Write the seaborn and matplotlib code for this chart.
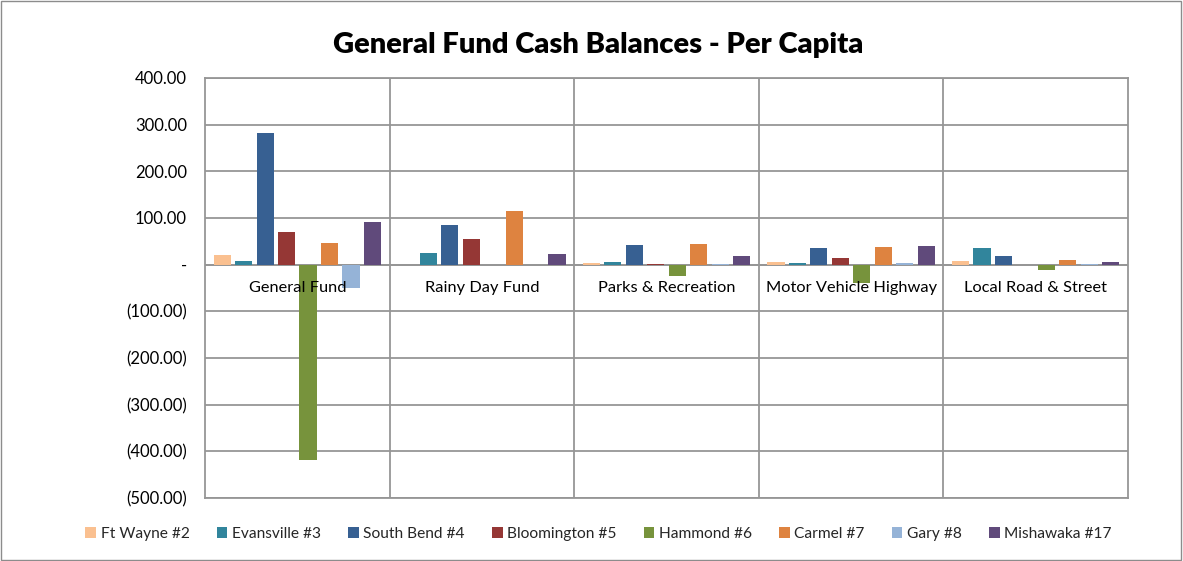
import numpy as np
import pandas as pd
import matplotlib
matplotlib.use("Agg")
import matplotlib.pyplot as plt
from matplotlib.ticker import FuncFormatter
from matplotlib.patches import Rectangle
import seaborn as sns

# Per capita balances
funds = ["General Fund", "Rainy Day Fund", "Parks & Recreation",
         "Motor Vehicle Highway", "Local Road & Street"]
cities = ["Ft Wayne #2", "Evansville #3", "South Bend #4", "Bloomington #5",
          "Hammond #6", "Carmel #7", "Gary #8", "Mishawaka #17"]

ft_wayne = [20, 0, 4, 6, 8]
evansville = [7, 25, 6, 3, 35]
south_bend = [282, 86, 42, 36, 19]
bloomington = [69, 56, 2, 15, 0]
hammond = [-419, 0, -24, -39, -11]
carmel = [46, 114, 45, 37, 9]
gary = [-50, 0, 1, 3, 1]
mishawaka = [91, 22, 18, 39, 6]

colors = ["#FAC090", "#31859C", "#376092", "#953735",
          "#77933C", "#DE8340", "#95B3D7", "#604A7B"]

series = [ft_wayne, evansville, south_bend, bloomington,
          hammond, carmel, gary, mishawaka]
rows = []
for city, vals in zip(cities, series):
    for fund, v in zip(funds, vals):
        rows.append({"Fund": fund, "City": city, "Value": v})
df = pd.DataFrame(rows)

sns.set_style("white")
plt.rcParams["font.family"] = ["Lato", "DejaVu Sans"]

fig = plt.figure(figsize=(11.83, 5.61), dpi=100)
ax = fig.add_axes([0.1733, 0.1123, 0.7802, 0.7487])

sns.barplot(data=df, x="Fund", y="Value", hue="City", order=funds,
            hue_order=cities, palette=colors, width=0.93, gap=0.2,
            saturation=1, linewidth=0, ax=ax, legend=True)

ax.set_ylim(-500, 400)
ax.set_yticks(np.arange(-500, 401, 100))
def fmt(v, pos):
    if abs(v) < 1e-9:
        return "-"
    if v < 0:
        return "({:,.2f})".format(-v)
    return "{:,.2f}".format(v)
ax.yaxis.set_major_formatter(FuncFormatter(fmt))
ax.tick_params(axis="y", labelsize=12, length=0, pad=13, colors="#000000")

ax.set_xlim(-0.5, 4.5)
ax.set_xticks(np.arange(0.5, 4.5, 1.0), minor=True)
ax.set_xticks([])
ax.grid(axis="y", which="major", color="#969696", linewidth=1.3)
ax.grid(axis="x", which="minor", color="#969696", linewidth=1.3)
ax.set_axisbelow(True)
ax.axhline(0, color="#969696", linewidth=1.3, zorder=0.5)
ax.tick_params(axis="x", which="both", length=0)
for s in ax.spines.values():
    s.set_color("#969696")
    s.set_linewidth(1.3)
ax.set_xlabel("")
ax.set_ylabel("")

# category labels sit right under the zero line
for i, f in enumerate(funds):
    ax.annotate(f, xy=(i, 0), xytext=(0, -17), textcoords="offset points",
                ha="center", va="center", fontsize=11.8, color="#000000", zorder=5)

fig.text(0.5055, 0.919, "General Fund Cash Balances - Per Capita",
         ha="center", va="center", fontsize=21, fontweight="heavy", color="#000000")

handles, labels = ax.get_legend_handles_labels()
ax.get_legend().remove()
fig.legend(handles, labels, loc="center", bbox_to_anchor=(0.506, 0.048),
           ncol=8, frameon=False, fontsize=11.2, handlelength=0.7,
           handleheight=0.7, handletextpad=0.3, columnspacing=1.72)

fig.patches.append(Rectangle((0.001, 0.001), 0.997, 0.997, transform=fig.transFigure,
                             fill=False, edgecolor="#8c8c8c", linewidth=1.0))

fig.savefig("out.png", dpi=100)
